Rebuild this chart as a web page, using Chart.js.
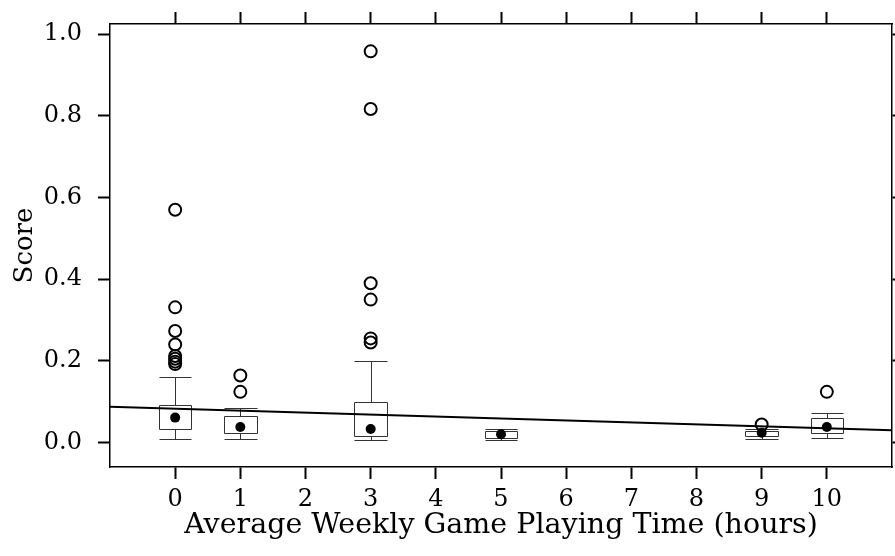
<!DOCTYPE html>
<html>
<head>
<meta charset="utf-8">
<script src="https://cdn.jsdelivr.net/npm/chart.js@4.4.0/dist/chart.umd.min.js"></script>
<style>
html, body { margin: 0; padding: 0; background: #fff; overflow: hidden; }
#wrap { width: 895px; height: 556px; }
</style>
</head>
<body>
<div id="wrap"><canvas id="chart"></canvas></div>
<script>
// data
const hours = [0, 1, 3, 5, 9, 10];
const whiskerLow  = [0.008, 0.009, 0.006, 0.006, 0.008, 0.012];
const boxLow      = [0.034, 0.024, 0.016, 0.011, 0.016, 0.024];
const medians     = [0.061, 0.038, 0.033, 0.020, 0.024, 0.038];
const boxHigh     = [0.092, 0.064, 0.098, 0.027, 0.028, 0.061];
const whiskerHigh = [0.160, 0.085, 0.199, 0.034, 0.033, 0.073];
const outliers = [
    [0.570, 0.331, 0.273, 0.240, 0.212, 0.205, 0.198, 0.192],
    [0.164, 0.124],
    [0.958, 0.817, 0.390, 0.350, 0.255, 0.245],
    [],
    [0.044],
    [0.124]
];
const fitX = [-1, 11];
const fitY = [0.0874, 0.0303];
const xTicks = [0, 1, 2, 3, 4, 5, 6, 7, 8, 9, 10];
const yTicks = [0, 0.2, 0.4, 0.6, 0.8, 1.0];

const serif = 'DejaVu Serif';
const black = '#000';

// boxes and whiskers, drawn through the chart scales
const boxPlugin = {
    id: 'boxes',
    beforeDatasetsDraw(chart) {
        const ctx = chart.ctx;
        const xs = chart.scales.x, ys = chart.scales.y;
        const half = 0.25;
        ctx.save();
        ctx.strokeStyle = '#333';
        ctx.lineWidth = 1;
        hours.forEach((h, i) => {
            const l = Math.round(xs.getPixelForValue(h - half)) + 0.5;
            const r = Math.round(xs.getPixelForValue(h + half)) + 0.5;
            const c = Math.round(xs.getPixelForValue(h)) + 0.5;
            const y = v => Math.round(ys.getPixelForValue(v)) + 0.5;
            ctx.beginPath();
            ctx.rect(l, y(boxHigh[i]), r - l, y(boxLow[i]) - y(boxHigh[i]));
            ctx.moveTo(c, y(boxHigh[i])); ctx.lineTo(c, y(whiskerHigh[i]));
            ctx.moveTo(c, y(boxLow[i])); ctx.lineTo(c, y(whiskerLow[i]));
            ctx.moveTo(l, y(whiskerHigh[i])); ctx.lineTo(r, y(whiskerHigh[i]));
            ctx.moveTo(l, y(whiskerLow[i])); ctx.lineTo(r, y(whiskerLow[i]));
            ctx.stroke();
        });
        ctx.restore();
    }
};

const outlierPoints = [];
hours.forEach((h, i) => outliers[i].forEach(v => outlierPoints.push({ x: h, y: v })));

// fixed axis size, no label overhang padding
function fixSize(prop, size) {
    return axis => {
        axis[prop] = size;
        axis.paddingLeft = axis.paddingRight = axis.paddingTop = axis.paddingBottom = 0;
    };
}

function tickAxis(extra) {
    return Object.assign({
        type: 'linear',
        grid: { drawOnChartArea: false, drawTicks: true, tickLength: 12, tickWidth: 2, tickColor: black },
        border: { display: true, color: black, width: 1.5 },
    }, extra);
}

Chart.defaults.font.family = serif;
Chart.defaults.color = black;

new Chart(document.getElementById('chart'), {
    type: 'scatter',
    data: {
        datasets: [{
            data: fitX.map((x, i) => ({ x: x, y: fitY[i] })),
            type: 'line',
            showLine: true,
            borderColor: black,
            borderWidth: 2,
            pointRadius: 0,
            order: 3
        }, {
            data: hours.map((h, i) => ({ x: h, y: medians[i] })),
            pointRadius: 5,
            pointBackgroundColor: black,
            pointBorderColor: black,
            pointBorderWidth: 0,
            order: 2
        }, {
            data: outlierPoints,
            pointRadius: 6,
            pointBackgroundColor: 'rgba(0,0,0,0)',
            pointBorderColor: black,
            pointBorderWidth: 2,
            order: 1
        }]
    },
    options: {
        responsive: true,
        maintainAspectRatio: false,
        animation: false,
        layout: { autoPadding: false, padding: { top: 12, left: 0, right: 0, bottom: 0 } },
        plugins: { legend: { display: false }, tooltip: { enabled: false } },
        scales: {
            x: tickAxis({
                position: 'bottom', min: -1, max: 11,
                afterBuildTicks: a => { a.ticks = xTicks.map(v => ({ value: v })); },
                afterFit: fixSize('height', 89),
                ticks: { font: { size: 24, lineHeight: 1 }, padding: 9, maxRotation: 0 },
                title: { display: true, text: 'Average Weekly Game Playing Time (hours)', font: { size: 28.5, lineHeight: 1 }, padding: { top: 0, bottom: 16.5 } }
            }),
            x2: tickAxis({
                position: 'top', min: -1, max: 11,
                afterBuildTicks: a => { a.ticks = xTicks.map(v => ({ value: v })); },
                afterFit: fixSize('height', 12),
                ticks: { display: false }
            }),
            y: tickAxis({
                position: 'left', min: -0.06, max: 1.025,
                afterBuildTicks: a => { a.ticks = yTicks.map(v => ({ value: v })); },
                afterFit: fixSize('width', 110),
                ticks: { font: { size: 24, lineHeight: 1 }, padding: 16, callback: v => v.toFixed(1) },
                title: { display: true, text: 'Score', font: { size: 26, lineHeight: 1 }, padding: { top: 12, bottom: 0 } }
            }),
            y2: tickAxis({
                position: 'right', min: -0.06, max: 1.025,
                afterBuildTicks: a => { a.ticks = yTicks.map(v => ({ value: v })); },
                afterFit: fixSize('width', 3),
                ticks: { display: false },
                grid: { drawOnChartArea: false, drawTicks: true, tickLength: 3, tickWidth: 2, tickColor: black }
            })
        }
    },
    plugins: [boxPlugin]
});
</script>
</body>
</html>
